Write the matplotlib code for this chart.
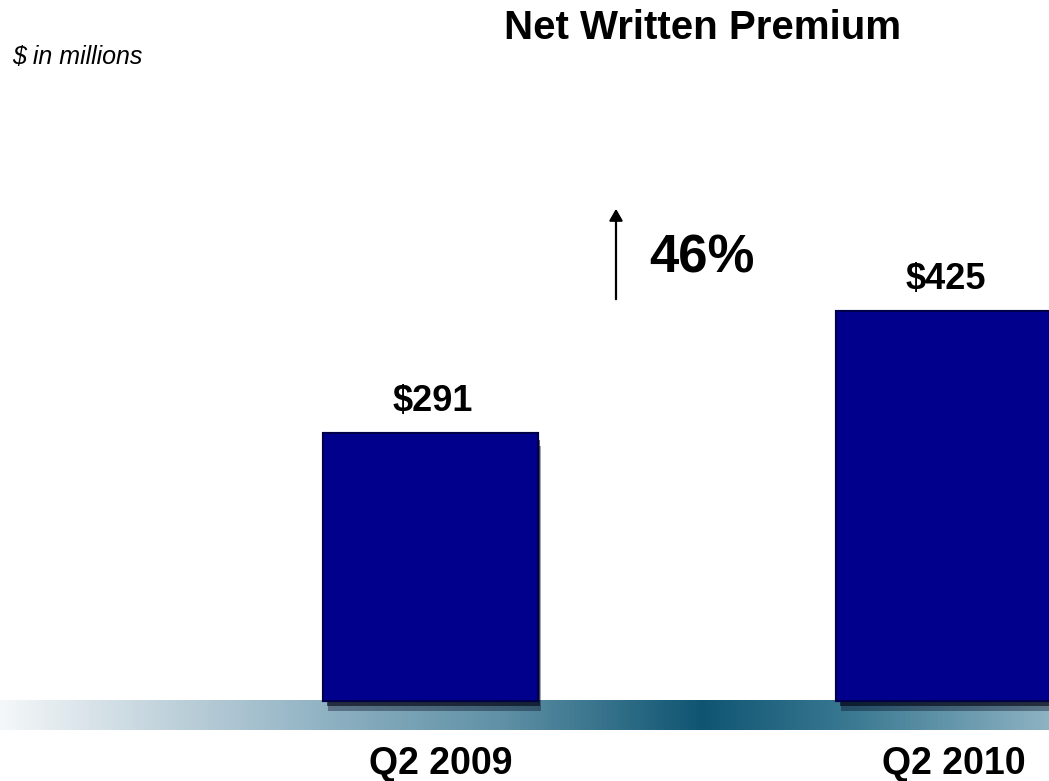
import numpy as np
import matplotlib.pyplot as plt
import matplotlib.patheffects as pe
from matplotlib.patches import FancyArrowPatch
from matplotlib.colors import LinearSegmentedColormap

plt.rcParams['font.family'] = ['Liberation Sans', 'DejaVu Sans']

# Données
periods = ["Q2 2009", "Q2 2010"]
premium = [291, 425]
value_labels = ["$291", "$425"]
growth_label = "46%"

W, H = 1049, 781
fig = plt.figure(figsize=(W / 100, H / 100), dpi=100)
fig.patch.set_facecolor("white")

# Bande dégradée sous les barres
band = fig.add_axes([0, 51 / H, 1, 30 / H])
band_cmap = LinearSegmentedColormap.from_list(
    "band",
    [(0.0, "#f4f7f9"), (0.15, "#c3d4dd"), (0.32, "#8cb0c1"), (0.48, "#5f90a5"),
     (0.67, "#0f5572"), (0.82, "#3d7b94"), (1.0, "#8db2c2")])
band.imshow(np.linspace(0, 1, 512)[None, :], aspect="auto", cmap=band_cmap,
            extent=[0, 1, 0, 1])
band.axis("off")

# Graphique principal
ax = fig.add_axes([0, 81 / H, 1, 700 / H])
ax.set_facecolor("none")
x = np.arange(len(periods))
bars = ax.bar(x, premium, width=0.415, color="#00008c", zorder=3, clip_on=False)
for b in bars:
    b.set_path_effects([
        pe.SimplePatchShadow(offset=(3, -8), shadow_rgbFace="#000018", alpha=0.35),
        pe.SimplePatchShadow(offset=(2, -4), shadow_rgbFace="#000010", alpha=0.6),
        pe.Stroke(linewidth=3, foreground="#00004a"),
        pe.Normal()])
ax.set_xlim(-0.8392, 1.2057)
ax.set_ylim(0, 767)
ax.axis("off")

for xi, v, lab in zip(x, premium, value_labels):
    ax.annotate(lab, (xi, v), xytext=(2, 23), textcoords="offset pixels",
                ha="center", va="baseline", fontsize=26, fontweight="bold")

for xi, lab in zip(x, periods):
    ax.annotate(lab, (xi, 0), xytext=(10, -74), textcoords="offset pixels",
                ha="center", va="baseline", fontsize=27, fontweight="bold",
                annotation_clip=False)

# Titres
fig.text(703 / W, 1 - 39 / H, "Net Written Premium", ha="center", va="baseline",
         fontsize=29, fontweight="bold")
fig.text(12 / W, 1 - 64 / H, "$ in millions", ha="left", va="baseline",
         fontsize=18, style="italic")

# Flèche de croissance
fig.patches.append(FancyArrowPatch(
    (616 / W, 1 - 302 / H), (616 / W, 1 - 206 / H), transform=fig.transFigure,
    arrowstyle="-|>,head_length=7,head_width=4", lw=1.6, color="black"))
fig.text(702 / W, 1 - 273 / H, growth_label, ha="center", va="baseline",
         fontsize=38, fontweight="bold")

fig.savefig("out.png", dpi=100)
